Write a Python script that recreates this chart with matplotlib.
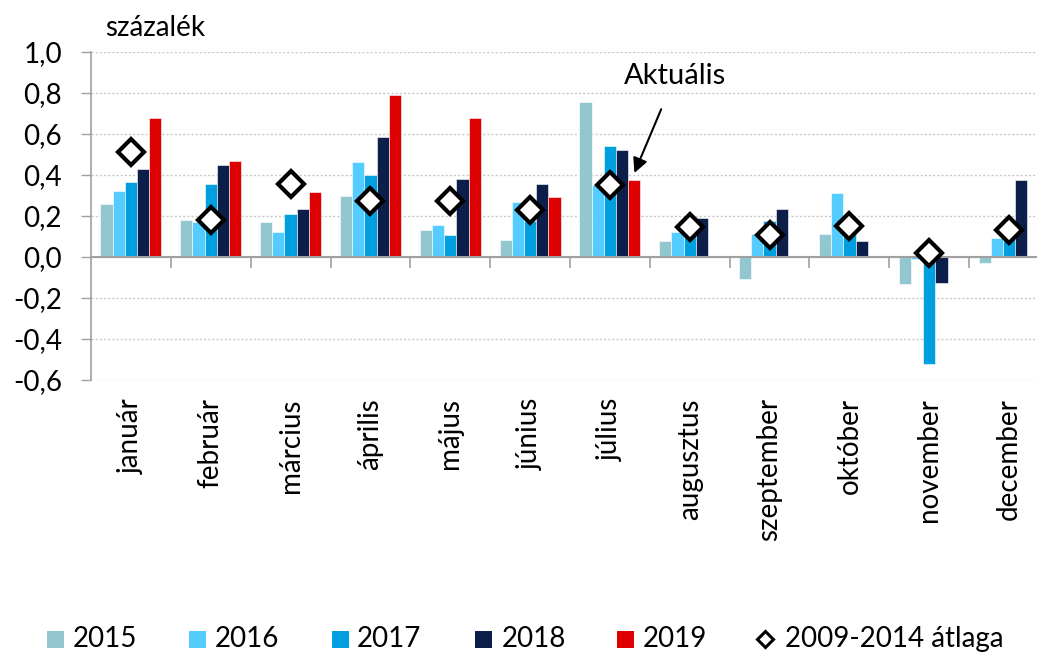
import matplotlib
matplotlib.use("Agg")
import matplotlib.pyplot as plt
import numpy as np
from matplotlib.patches import Rectangle
from matplotlib.lines import Line2D

plt.rcParams['font.family'] = ['Lato', 'DejaVu Sans']

months = ["január", "február", "március", "április", "május", "június",
          "július", "augusztus", "szeptember", "október", "november", "december"]
years = ["2015", "2016", "2017", "2018", "2019"]
v2015 = [0.26, 0.18, 0.17, 0.30, 0.13, 0.085, 0.755, 0.08, -0.105, 0.11, -0.13, -0.03]
v2016 = [0.32, 0.17, 0.12, 0.465, 0.155, 0.27, 0.35, 0.12, 0.11, 0.31, -0.01, 0.095]
v2017 = [0.365, 0.355, 0.21, 0.40, 0.105, 0.175, 0.54, 0.14, 0.175, 0.13, -0.52, 0.12]
v2018 = [0.43, 0.45, 0.235, 0.585, 0.38, 0.355, 0.52, 0.19, 0.235, 0.08, -0.125, 0.375]
v2019 = [0.68, 0.47, 0.315, 0.79, 0.68, 0.295, 0.375, np.nan, np.nan, np.nan, np.nan, np.nan]
avg0914 = [0.51, 0.18, 0.355, 0.275, 0.275, 0.23, 0.35, 0.145, 0.105, 0.15, 0.02, 0.13]
avg_label = "2009-2014 átlaga"
yticks = [-0.6, -0.4, -0.2, 0.0, 0.2, 0.4, 0.6, 0.8, 1.0]

series = [v2015, v2016, v2017, v2018, v2019]
colors = ["#93C7D0", "#55CCFF", "#009FDF", "#0C1F4A", "#DD0000"]

W, H = 1037, 653
fig = plt.figure(figsize=(W/100, H/100), dpi=100)
ax = fig.add_axes([91/W, 1-380/H, 958/W, (380-52)/H])

x = np.arange(len(months))
w = 0.153
for i, (vals, c) in enumerate(zip(series, colors)):
    ax.bar(x + (i-2)*w, vals, width=w, color=c, edgecolor='white', linewidth=0.4, zorder=3)

ax.plot(x, avg0914, linestyle='none', marker='D', markersize=13, markerfacecolor='white',
        markeredgecolor='black', markeredgewidth=3, zorder=5)

ax.set_xlim(-0.5, 11.5)
ax.set_ylim(-0.6, 1.0)
ax.set_yticks(yticks)
ax.set_yticklabels([f"{t:.1f}".replace('.', ',') for t in yticks], fontsize=20)
ax.yaxis.grid(True, linestyle=(0, (1.5, 1.5)), color='#C8C8C8', linewidth=1, zorder=0)
ax.set_axisbelow(True)

ax.set_xticks(x)
ax.set_xticklabels(months, rotation=90, fontsize=20, va='top', ha='center')
ax.tick_params(axis='x', length=0, pad=13)
ax.tick_params(axis='y', length=7, width=1, color='#A0A0A0', pad=14)

for s in ['top', 'right', 'bottom']:
    ax.spines[s].set_visible(False)
ax.spines['left'].set_color('#A0A0A0')
ax.spines['left'].set_linewidth(1.2)

ax.axhline(0, color='#A0A0A0', linewidth=1.5, zorder=4)
for b in np.arange(0.5, 11.5, 1.0):
    ax.plot([b, b], [0, -0.05], color='#A0A0A0', linewidth=1.2, zorder=4)

fig.text(105/W, 1-28/H, "százalék", fontsize=20, va='center', ha='left')

ax.annotate("Aktuális", xy=(6 + 2*w, 0.41), xytext=(6.82, 0.885),
            fontsize=21, ha='center', va='center',
            arrowprops=dict(arrowstyle='-|>', color='black', lw=1.5,
                            mutation_scale=22, shrinkA=14, shrinkB=0))

# legend (manual, figure-pixel placement)
sq_left = [47, 189, 332, 475, 617]
txt_left = [73, 215, 357, 502, 643]
ly = 639
sq = 17
for xl, xt, c, lab in zip(sq_left, txt_left, colors, years):
    fig.patches.append(Rectangle((xl/W, (H-ly-sq/2)/H), sq/W, sq/H, facecolor=c,
                                 edgecolor='none', transform=fig.transFigure, figure=fig))
    fig.text(xt/W, 1-ly/H, lab, fontsize=20, va='center', ha='left')
fig.lines.append(Line2D([765/W], [1-ly/H], transform=fig.transFigure, linestyle='none',
                        marker='D', markersize=8, markerfacecolor='white',
                        markeredgecolor='black', markeredgewidth=2.2))
fig.text(785/W, 1-ly/H, avg_label, fontsize=20, va='center', ha='left')

fig.savefig("out.png", dpi=100)
